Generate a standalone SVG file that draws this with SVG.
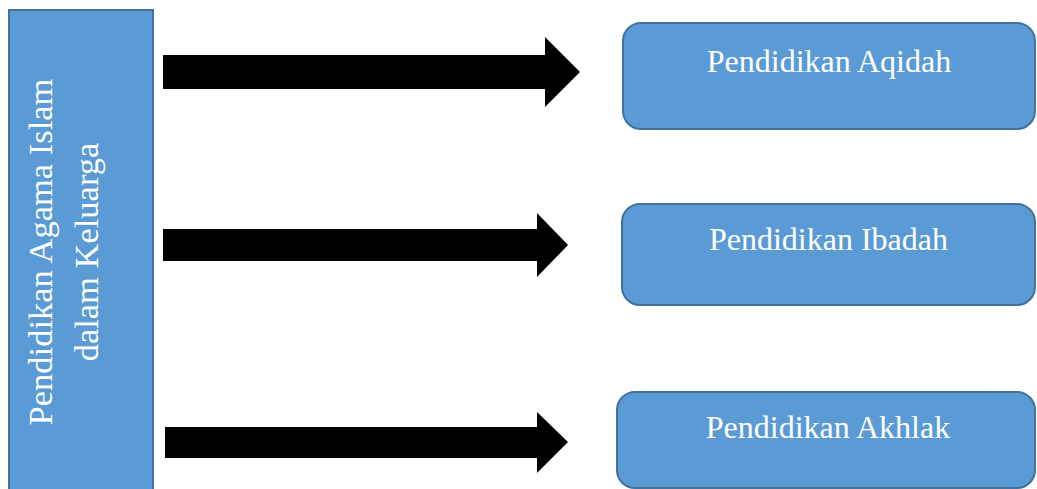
<svg xmlns="http://www.w3.org/2000/svg" width="1037" height="489" viewBox="0 0 1037 489">
<style>
.box{fill:#5B9BD5;stroke:#41719C;stroke-width:2}
.lbl{font-family:"Liberation Serif","Times New Roman",serif;fill:#FFFFFF;text-anchor:middle}
.arr{fill:#000000}
</style>
<rect width="1037" height="489" fill="#FFFFFF"/>
<g id="node-main">
<rect class="box" x="9" y="10" width="144" height="490"/>
<text class="lbl" font-size="34.5" transform="translate(52,252) rotate(-90)">Pendidikan Agama Islam</text>
<text class="lbl" font-size="34.5" transform="translate(98,252) rotate(-90)">dalam Keluarga</text>
</g>
<g id="connectors">
<polygon class="arr" points="163,55 545,55 545,37 580,72 545,107 545,89 163,89"/>
<polygon class="arr" points="163,229 537,229 537,213 568,245 537,277 537,261 163,261"/>
<polygon class="arr" points="165,427 537,427 537,412 568,442 537,473 537,458 165,458"/>
</g>
<g id="node-aqidah">
<rect class="box" x="623" y="23" width="412" height="106" rx="18"/>
<text class="lbl" font-size="32" x="829" y="72">Pendidikan Aqidah</text>
</g>
<g id="node-ibadah">
<rect class="box" x="622" y="204" width="413" height="101" rx="18"/>
<text class="lbl" font-size="32" x="828.5" y="250">Pendidikan Ibadah</text>
</g>
<g id="node-akhlak">
<rect class="box" x="617" y="392" width="418" height="96" rx="18"/>
<text class="lbl" font-size="32" x="828" y="438">Pendidikan Akhlak</text>
</g>
</svg>
